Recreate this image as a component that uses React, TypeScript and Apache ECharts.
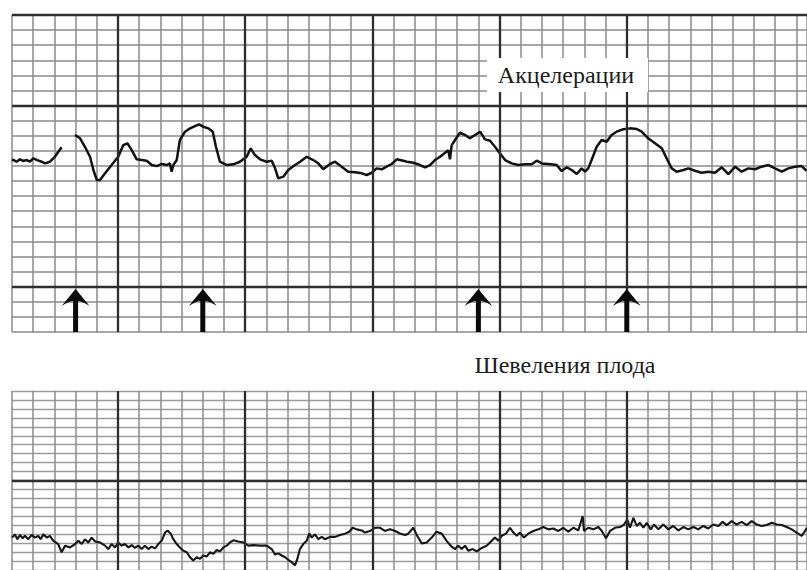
import React, { useEffect, useRef } from "react";
import * as echarts from "echarts";

// Time axis in seconds (one minor division = 10 s, one major division = 1 min)
const minuteLines = [60, 120, 180, 240, 300];
// FHR panel (bpm-like units, 10 per division)
const fhrMajorLevels = [30, 150, 210];
// Uterine/toco panel (5 per division)
const tocoMajorLevels = [50];
// Fetal movement marks (seconds)
const movementTimes = [40, 100, 230, 300];

const accelLabel = "Акцелерации";
const movementLabel = "Шевеления плода";

// Fetal heart rate trace, before signal gap
const fhrSegmentA: [number, number][] = [
  [10, 114.4], [12.2, 112.8], [13.8, 114.4], [15.3, 113.3], [16.9, 113.9], [18.5, 112.8],
  [20.0, 115.0], [21.9, 113.9], [24.0, 112.8], [25.6, 111.7], [27.9, 112.8], [30.3, 116.2],
  [33.4, 122.4],
];

// Fetal heart rate trace, after signal gap
const fhrSegmentB: [number, number][] = [
  [39.7, 130.5], [42.1, 128.3], [44.4, 122.7], [46.8, 116.1], [48.4, 107.3], [50.0, 100.7],
  [51.5, 100.7], [53.9, 105.1], [57.0, 110.6], [60.1, 116.1], [62.5, 123.8], [64.4, 125.0],
  [66.5, 120.5], [68.8, 114.4], [71.2, 113.9], [73.5, 113.5], [75.9, 110.6], [78.3, 109.9],
  [80.6, 111.3], [83.0, 110.6], [84.5, 111.7], [85.3, 106.2], [86.1, 110.6], [87.7, 113.9],
  [89.2, 127.2], [91.6, 132.7], [94.0, 134.9], [96.3, 136.4], [98.2, 137.6], [100.2, 136.0],
  [102.6, 134.9], [104.7, 132.7], [106.2, 122.7], [108.1, 112.8], [111.3, 110.6], [114.4, 111.1],
  [117.5, 112.8], [120.7, 116.1], [122.6, 121.7], [124.6, 117.2], [127.0, 114.4], [130.1, 112.8],
  [132.5, 113.5], [134.1, 108.4], [135.6, 101.8], [138.0, 102.9], [140.3, 107.3], [143.5, 110.6],
  [145.9, 112.8], [149.0, 116.1], [152.1, 113.9], [154.5, 111.7], [156.8, 107.8], [160.0, 111.3],
  [162.4, 112.8], [165.5, 109.5], [168.6, 106.2], [171.8, 105.8], [175.0, 105.1], [177.3, 104.0],
  [179.7, 105.5], [182.0, 108.4], [184.4, 107.8], [186.7, 109.5], [189.1, 111.3], [191.5, 114.4],
  [194.6, 113.5], [196.2, 112.8], [199.3, 112.1], [202.5, 110.6], [204.8, 109.1], [207.2, 110.6],
  [209.5, 113.9], [211.9, 116.1], [214.3, 118.8], [215.8, 120.5], [216.6, 114.4], [217.4, 123.8],
  [219.0, 127.2], [221.3, 132.0], [223.7, 130.5], [226.0, 128.3], [228.4, 130.5], [230.8, 132.7],
  [233.1, 127.6], [235.5, 126.7], [237.8, 122.7], [240.2, 118.3], [242.6, 113.9], [245.7, 111.7],
  [248.8, 110.6], [252.0, 111.1], [255.1, 111.1], [257.5, 113.5], [259.9, 111.7], [263.0, 111.3],
  [266.9, 110.6], [269.3, 106.6], [271.7, 109.1], [274.0, 107.3], [276.4, 104.7], [278.7, 108.4],
  [280.3, 106.2], [281.8, 108.4], [283.4, 113.9], [285.8, 122.7], [288.1, 127.2], [290.5, 126.0],
  [292.8, 130.5], [295.2, 132.7], [298.3, 134.3], [301.5, 134.9], [304.7, 134.5], [307.0, 132.7],
  [310.1, 128.3], [313.3, 125.0], [316.5, 121.7], [318.8, 115.0], [321.2, 108.4], [323.5, 106.2],
  [326.7, 107.3], [329.0, 108.4], [332.2, 106.8], [335.3, 105.5], [338.5, 106.2], [341.6, 105.5],
  [344.8, 109.1], [347.9, 104.6], [351.1, 109.5], [354.2, 106.2], [357.3, 108.4], [360.5, 107.8],
  [363.6, 109.5], [366.8, 110.6], [369.9, 108.4], [373.1, 106.2], [376.2, 108.4], [379.4, 109.5],
  [382.5, 109.9], [384.8, 106.8],
];

// Toco (uterine activity) trace
const tocoTrace: [number, number][] = [
  [10.0, 18.1], [11.4, 19.9], [12.5, 17.2], [13.8, 19.6], [15.0, 17.7], [16.1, 19.1],
  [17.7, 17.2], [19.3, 19.6], [20.8, 18.1], [22.4, 19.1], [23.5, 17.2], [24.8, 19.9],
  [26.4, 18.1], [27.9, 19.1], [29.5, 16.3], [31.8, 14.5], [33.4, 9.9], [35.0, 13.6],
  [37.4, 12.6], [39.7, 14.5], [41.3, 16.3], [42.9, 14.5], [44.4, 17.2], [46.0, 15.4],
  [47.6, 18.1], [49.2, 15.9], [51.5, 15.4], [53.9, 13.6], [55.4, 11.7], [57.0, 14.5],
  [58.6, 12.6], [60.1, 15.4], [61.7, 13.6], [63.3, 14.5], [64.9, 12.6], [66.5, 13.9],
  [68.0, 12.3], [69.6, 13.6], [71.2, 11.7], [72.7, 13.6], [74.3, 11.7], [75.9, 13.0],
  [77.5, 12.1], [79.0, 14.5], [80.6, 16.3], [82.2, 20.9], [83.4, 22.1], [84.9, 20.3],
  [86.1, 17.2], [87.7, 14.5], [89.2, 12.6], [90.8, 10.8], [92.4, 9.9], [94.0, 7.1],
  [95.5, 5.3], [97.1, 7.1], [98.7, 6.2], [100.2, 8.1], [101.8, 7.5], [103.4, 9.9],
  [105.0, 9.0], [106.6, 11.2], [108.1, 10.4], [109.7, 12.6], [111.3, 13.6], [112.8, 15.4],
  [114.4, 16.6], [116.7, 15.9], [119.1, 15.4], [121.5, 13.6], [123.8, 13.9], [127.0, 13.6],
  [130.1, 13.6], [132.5, 11.7], [134.1, 8.6], [135.6, 9.3], [137.2, 8.1], [138.8, 7.1],
  [140.3, 5.7], [141.9, 4.4], [143.5, 2.6], [144.6, 6.2], [145.8, 11.7], [147.4, 14.5],
  [149.0, 16.3], [150.2, 20.3], [151.4, 18.1], [152.9, 19.9], [154.5, 17.2], [156.1, 18.5],
  [157.6, 17.2], [160.0, 18.5], [162.4, 18.5], [164.7, 19.6], [167.1, 20.3], [169.1, 21.4],
  [170.7, 23.6], [172.6, 22.7], [175.0, 22.1], [176.5, 20.9], [178.9, 21.8], [181.2, 23.6],
  [183.6, 23.6], [185.9, 21.8], [188.3, 22.7], [190.7, 21.8], [193.0, 20.4], [195.4, 19.6],
  [196.9, 20.3], [199.3, 23.6], [200.9, 19.6], [203.3, 14.8], [205.6, 15.4], [208.0, 18.1],
  [210.3, 21.4], [212.7, 20.3], [215.0, 16.3], [217.4, 13.0], [219.0, 11.7], [220.5, 13.6],
  [222.1, 11.7], [223.7, 13.6], [225.2, 10.8], [227.3, 11.7], [229.2, 10.4], [231.6, 12.3],
  [233.9, 13.6], [236.3, 16.3], [237.8, 18.1], [239.4, 16.3], [241.0, 19.1], [243.0, 20.3],
  [244.9, 23.6], [246.5, 20.9], [248.1, 19.1], [249.6, 20.9], [251.5, 18.1], [253.5, 20.3],
  [255.9, 21.8], [258.3, 22.7], [260.6, 24.0], [263.0, 22.7], [265.3, 23.2], [267.7, 21.8],
  [270.0, 23.6], [272.4, 21.4], [274.8, 23.6], [277.1, 22.1], [279.2, 30.1], [279.8, 21.8],
  [281.8, 23.6], [284.2, 22.7], [286.6, 24.0], [288.2, 21.8], [290.2, 17.7], [292.1, 21.8],
  [294.4, 23.6], [296.8, 24.0], [298.7, 25.4], [300.2, 28.2], [301.5, 23.6], [303.1, 29.1],
  [304.7, 24.6], [306.2, 26.4], [307.8, 23.6], [309.4, 26.4], [311.3, 22.7], [312.8, 25.4],
  [314.9, 22.7], [317.2, 25.4], [319.6, 22.7], [321.9, 24.6], [324.3, 22.1], [326.7, 24.0],
  [329.0, 22.7], [331.4, 24.0], [333.7, 22.7], [336.1, 24.6], [338.4, 23.2], [340.8, 25.4],
  [343.2, 24.6], [345.2, 26.9], [347.1, 25.1], [349.5, 27.3], [351.8, 25.4], [354.2, 26.9],
  [356.6, 25.1], [358.9, 27.3], [361.3, 25.4], [363.6, 24.6], [366.0, 25.1], [368.4, 26.4],
  [370.7, 25.4], [373.1, 25.1], [375.4, 24.0], [377.8, 22.7], [380.1, 20.9], [382.5, 19.1],
  [384.1, 21.8], [384.9, 23.6],
];

export default function App() {
  const ref = useRef<HTMLDivElement>(null);

  useEffect(() => {
    if (!ref.current) return;
    const chart = echarts.init(ref.current, null, { renderer: "svg" });

    const hidden = {
      axisLine: { show: false },
      axisTick: { show: false },
      axisLabel: { show: false },
    };
    const minorLine = { show: true, lineStyle: { color: "#8a8a8a", width: 1.5 } };
    const tocoHLine = { show: true, lineStyle: { color: "#9c9c9c", width: 1.3 } };
    const majorStyle = { color: "#2e2e2e", width: 2.3, type: "solid" };
    const arrowPath =
      "path://M14 0 L28 17 Q20 12 16.5 12 L16.5 43 L11.5 43 L11.5 12 Q8 12 0 17 Z";
    const traceStyle = { color: "#121212", width: 2.5 };
    const labelFont = '24px "Liberation Serif", "DejaVu Serif", serif';

    chart.setOption({
      animation: false,
      backgroundColor: "#ffffff",
      grid: [
        { left: 12, right: 0, top: 15, height: 317 },
        { left: 12, right: 0, top: 391, height: 182 },
      ],
      xAxis: [
        { type: "value", gridIndex: 0, min: 10, max: 385, interval: 10, splitLine: minorLine, ...hidden },
        { type: "value", gridIndex: 1, min: 10, max: 385, interval: 10, splitLine: minorLine, ...hidden },
      ],
      yAxis: [
        { type: "value", gridIndex: 0, min: 0, max: 210, interval: 10, splitLine: minorLine, ...hidden },
        { type: "value", gridIndex: 1, min: 0, max: 100, interval: 5, splitLine: tocoHLine, ...hidden },
      ],
      series: [
        {
          type: "line",
          xAxisIndex: 0,
          yAxisIndex: 0,
          data: [],
          silent: true,
          z: 1,
          markLine: {
            silent: true,
            symbol: ["none", "none"],
            label: { show: false },
            emphasis: { disabled: true },
            lineStyle: majorStyle,
            data: [
              ...minuteLines.map((v) => ({ xAxis: v })),
              ...fhrMajorLevels.map((v) => ({ yAxis: v })),
            ],
          },
        },
        {
          type: "line",
          xAxisIndex: 1,
          yAxisIndex: 1,
          data: [],
          silent: true,
          z: 1,
          markLine: {
            silent: true,
            symbol: ["none", "none"],
            label: { show: false },
            emphasis: { disabled: true },
            lineStyle: majorStyle,
            data: [
              ...minuteLines.map((v) => ({ xAxis: v })),
              ...tocoMajorLevels.map((v) => ({ yAxis: v })),
            ],
          },
        },
        {
          type: "line",
          xAxisIndex: 0,
          yAxisIndex: 0,
          data: fhrSegmentA,
          showSymbol: false,
          symbol: "none",
          silent: true,
          z: 3,
          lineStyle: traceStyle,
        },
        {
          type: "line",
          xAxisIndex: 0,
          yAxisIndex: 0,
          data: fhrSegmentB,
          showSymbol: false,
          symbol: "none",
          silent: true,
          z: 3,
          lineStyle: traceStyle,
        },
        {
          type: "line",
          xAxisIndex: 1,
          yAxisIndex: 1,
          data: tocoTrace,
          showSymbol: false,
          symbol: "none",
          silent: true,
          z: 3,
          lineStyle: { color: "#161616", width: 2.1 },
        },
        {
          type: "scatter",
          xAxisIndex: 0,
          yAxisIndex: 0,
          data: movementTimes.map((t) => [t, 0]),
          symbol: arrowPath,
          symbolSize: [28, 43],
          symbolOffset: [0, -21.5],
          itemStyle: { color: "#0a0a0a", opacity: 1 },
          silent: true,
          clip: false,
          z: 5,
        },
      ],
      graphic: [
        {
          type: "rect",
          shape: { x: 487, y: 58, width: 161, height: 34 },
          style: { fill: "#ffffff" },
          z: 100,
        },
        {
          type: "text",
          x: 566,
          y: 75,
          z: 101,
          style: {
            text: accelLabel,
            font: labelFont,
            fill: "#1c1c1c",
            align: "center",
            verticalAlign: "middle",
            textAlign: "center",
            textVerticalAlign: "middle",
          },
        },
        {
          type: "text",
          x: 565,
          y: 365,
          z: 101,
          style: {
            text: movementLabel,
            font: labelFont,
            fill: "#1c1c1c",
            align: "center",
            verticalAlign: "middle",
            textAlign: "center",
            textVerticalAlign: "middle",
          },
        },
      ],
    });

    return () => {
      chart.dispose();
    };
  }, []);

  return (
    <div
      ref={ref}
      style={{
        position: "fixed",
        left: 0,
        top: 0,
        width: 807,
        height: 570,
        background: "#ffffff",
      }}
    />
  );
}
